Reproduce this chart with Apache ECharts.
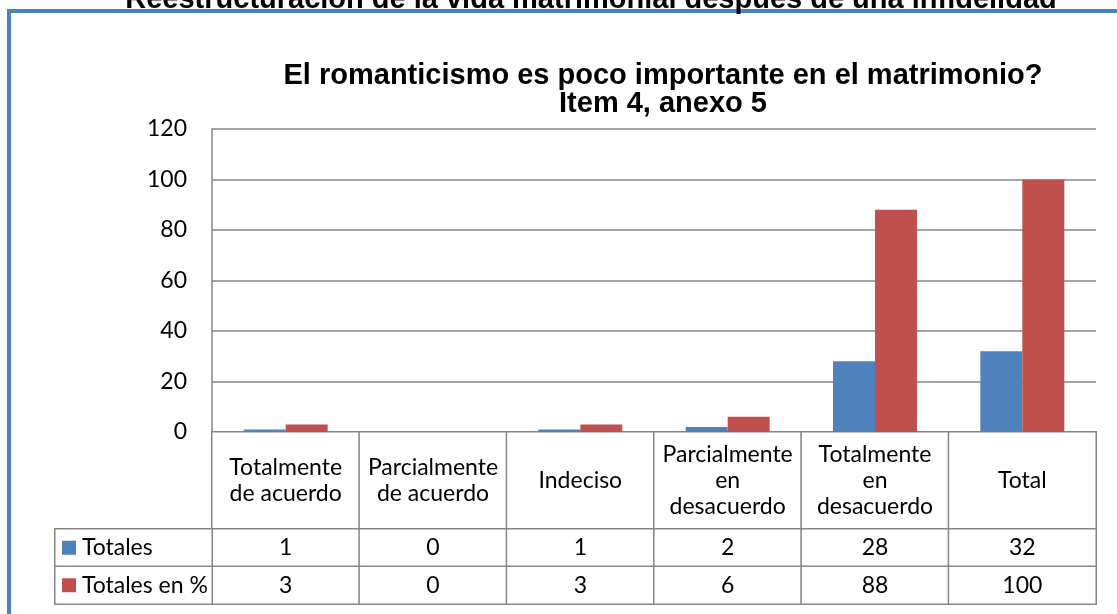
<!DOCTYPE html>
<html>
<head>
<meta charset="utf-8">
<title>El romanticismo es poco importante en el matrimonio?</title>
<script src="https://cdn.jsdelivr.net/npm/echarts@6/dist/echarts.min.js"></script>
<style>
  html, body { margin: 0; padding: 0; background: #fff; }
  #main { width: 1117px; height: 614px; }
</style>
</head>
<body>
<div id="main"></div>
<script>
// datos del grafico
const categorias = ['Totalmente\nde acuerdo', 'Parcialmente\nde acuerdo', 'Indeciso',
  'Parcialmente\nen\ndesacuerdo', 'Totalmente\nen\ndesacuerdo', 'Total']
const series = ['Totales', 'Totales en %']
const totales = [1, 0, 1, 2, 28, 32]
const totalesPct = [3, 0, 3, 6, 88, 100]
const yTicks = [0, 20, 40, 60, 80, 100, 120]

const azul = '#4F81BD'
const rojo = '#C0504D'
const gris = '#868686'
const fuente = 'Lato, "Open Sans", sans-serif'

const chart = echarts.init(document.getElementById('main'), null, { renderer: 'canvas' })

function celdas(filas) {
  // filas: lista de arrays, una por fila de la tabla
  let out = []
  filas.forEach(function (fila, r) {
    fila.forEach(function (v, c) {
      out.push([c, r, v])
    })
  })
  return out
}

function getOption() {
  const celda = {
    color: '#fff',
    borderColor: gris,
    borderWidth: 1.5
  }
  return {
    animation: false,
    backgroundColor: '#fff',
    title: [{
      // titulo del documento, cortado arriba
      text: 'Reestructuración de la vida matrimonial después de una infidelidad',
      left: 586,
      top: -20,
      textAlign: 'center',
      textStyle: { fontFamily: '"Liberation Sans", Arial', fontWeight: 'bold', fontSize: 29, color: '#000' }
    }, {
      text: 'El romanticismo es poco importante en el matrimonio?\nItem 4, anexo 5',
      left: 658,
      top: 57,
      textAlign: 'center',
      textStyle: { fontFamily: '"Liberation Sans", Arial', fontWeight: 'bold', fontSize: 29, lineHeight: 28, color: '#000' }
    }],
    graphic: [{
      type: 'rect',
      shape: { x: 9, y: 11, width: 1200, height: 700 },
      style: { fill: 'none', stroke: azul, lineWidth: 4 },
      silent: true
    }],
    grid: [
      { left: 212, right: 21, top: 129, height: 303 },   // barras
      { left: 212, right: 21, top: 432, height: 97 },    // encabezado tabla
      { left: 212, right: 21, top: 529, height: 75 },    // valores tabla
      { left: 55, width: 157, top: 529, height: 75 }     // nombres de serie
    ],
    xAxis: [{
      gridIndex: 0, type: 'category', data: categorias,
      axisLine: { lineStyle: { color: gris, width: 1.5 } },
      axisTick: { show: false },
      axisLabel: { show: false }
    }, {
      gridIndex: 1, type: 'category', data: categorias, show: false
    }, {
      gridIndex: 2, type: 'category', data: categorias, show: false
    }, {
      gridIndex: 3, type: 'category', data: [''], show: false
    }],
    yAxis: [{
      gridIndex: 0, type: 'value', min: yTicks[0], max: yTicks[yTicks.length - 1], interval: 20,
      axisLine: { show: true, lineStyle: { color: gris, width: 1.5 } },
      axisTick: { show: false },
      splitLine: { lineStyle: { color: gris, width: 1.5 } },
      axisLabel: { fontFamily: fuente, fontSize: 23, color: '#000', margin: 25 }
    }, {
      gridIndex: 1, type: 'category', data: [''], show: false
    }, {
      gridIndex: 2, type: 'category', data: series, inverse: true, show: false
    }, {
      gridIndex: 3, type: 'category', data: series, inverse: true, show: false
    }],
    series: [{
      name: series[0], type: 'bar', data: totales,
      itemStyle: { color: azul },
      barGap: 0, barCategoryGap: '43%'
    }, {
      name: series[1], type: 'bar', data: totalesPct,
      itemStyle: { color: rojo }
    }, {
      type: 'heatmap', xAxisIndex: 1, yAxisIndex: 1,
      data: celdas([categorias.map(function (c, i) { return i })]),
      itemStyle: celda,
      label: {
        show: true, fontFamily: fuente, fontSize: 23, lineHeight: 26, color: '#000',
        formatter: function (p) { return categorias[p.value[0]] }
      },
      emphasis: { disabled: true }
    }, {
      type: 'heatmap', xAxisIndex: 2, yAxisIndex: 2,
      data: celdas([totales, totalesPct]),
      itemStyle: celda,
      label: {
        show: true, fontFamily: fuente, fontSize: 23, color: '#000',
        formatter: function (p) { return String(p.value[2]) }
      },
      emphasis: { disabled: true }
    }, {
      type: 'heatmap', xAxisIndex: 3, yAxisIndex: 3,
      data: celdas([[0], [1]]),
      itemStyle: celda,
      label: {
        show: true, position: 'insideLeft', distance: 8,
        fontFamily: fuente, fontSize: 23, color: '#000',
        formatter: function (p) {
          return (p.value[1] === 0 ? '{a|}' : '{r|}') + ' ' + series[p.value[1]]
        },
        rich: {
          a: { backgroundColor: azul, width: 14, height: 14 },
          r: { backgroundColor: rojo, width: 14, height: 14 }
        }
      },
      emphasis: { disabled: true }
    }]
  }
}

chart.setOption(getOption())
</script>
</body>
</html>
